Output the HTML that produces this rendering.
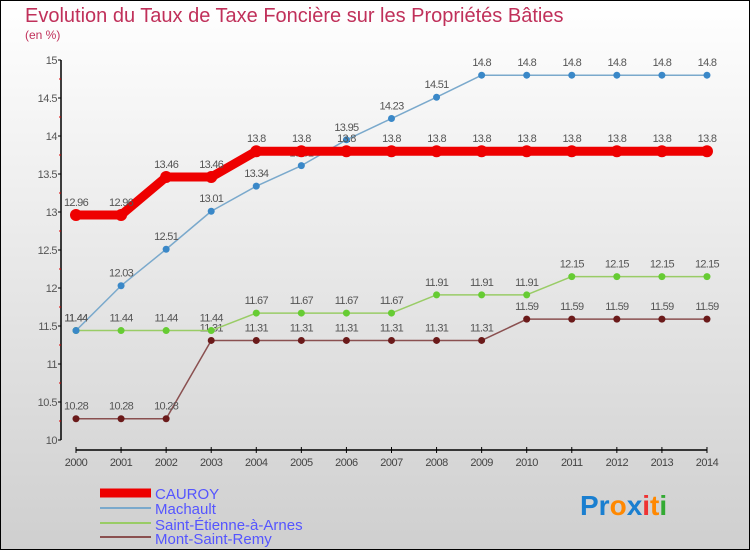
<!DOCTYPE html>
<html><head><meta charset="utf-8"><style>
body{margin:0}
#wrap{width:750px;height:550px;position:relative;box-sizing:border-box;border:1px solid #000;background:linear-gradient(#fff,#cfcfcf);font-family:"Liberation Sans",sans-serif;overflow:hidden}
</style></head><body>
<div id="wrap">
<svg id="svg" width="750" height="550" style="position:absolute;left:-1px;top:-1px">
<text x="25" y="22" font-size="20" fill="#c0305a">Evolution du Taux de Taxe Foncière sur les Propriétés Bâties</text>
<text x="25" y="39" font-size="12" fill="#c0305a">(en %)</text>
<g id="axes"></g><g id="series"></g>
<g>
<line x1="100" y1="493" x2="151" y2="493" stroke="#e00" stroke-width="9"/>
<text x="155" y="499" font-size="15" fill="#55f">CAUROY</text>
<line x1="100" y1="508" x2="151" y2="508" stroke="#7aa9cc" stroke-width="2"/>
<text x="155" y="514" font-size="15" fill="#55f">Machault</text>
<line x1="100" y1="523" x2="151" y2="523" stroke="#9c6" stroke-width="2"/>
<text x="155" y="530" font-size="15" fill="#55f">Saint-Étienne-à-Arnes</text>
<line x1="100" y1="537" x2="151" y2="537" stroke="#8a5050" stroke-width="2"/>
<text x="155" y="544" font-size="15" fill="#55f">Mont-Saint-Remy</text>
</g>
<text x="580" y="515" font-size="28" font-weight="bold"><tspan fill="#1a7fd0">Pr</tspan><tspan fill="#f80">o</tspan><tspan fill="#1a7fd0">x</tspan><tspan fill="#e33">i</tspan><tspan fill="#f80">t</tspan><tspan fill="#3a3">i</tspan></text>
</svg>
</div>
<script>
const years=[2000,2001,2002,2003,2004,2005,2006,2007,2008,2009,2010,2011,2012,2013,2014];
const cauroy=[12.96,12.96,13.46,13.46,13.8,13.8,13.8,13.8,13.8,13.8,13.8,13.8,13.8,13.8,13.8];
const machault=[11.44,12.03,12.51,13.01,13.34,13.61,13.95,14.23,14.51,14.8,14.8,14.8,14.8,14.8,14.8];
const stEtienne=[11.44,11.44,11.44,11.44,11.67,11.67,11.67,11.67,11.91,11.91,11.91,12.15,12.15,12.15,12.15];
const montSaintRemy=[10.28,10.28,10.28,11.31,11.31,11.31,11.31,11.31,11.31,11.31,11.59,11.59,11.59,11.59,11.59];
const yTicks=[10,10.5,11,11.5,12,12.5,13,13.5,14,14.5,15];
const NS="http://www.w3.org/2000/svg";
const xs=i=>76+i*45.07;
const ys=v=>440-(v-10)*76;
function mk(t,a,p){const e=document.createElementNS(NS,t);for(const k in a)e.setAttribute(k,a[k]);p.appendChild(e);return e;}
const ax=document.getElementById('axes'),sg=document.getElementById('series');
const yl=mk('line',{x1:61,y1:ys(15),x2:61,y2:ys(10),stroke:'#000','stroke-width':1.5},ax);


yTicks.forEach(v=>{mk('line',{x1:58,x2:61,y1:ys(v),y2:ys(v),stroke:'#000'},ax);
 if(v<15)mk('line',{x1:59,x2:61,y1:ys(v+0.25),y2:ys(v+0.25),stroke:'#d00'},ax);
 const t=mk('text',{x:57,y:ys(v)+4,'font-size':11,fill:'#555','text-anchor':'end','letter-spacing':'-0.5'},ax);t.textContent=v;
 
 });
const xl=mk('line',{x1:xs(0),y1:450,x2:xs(14),y2:450,stroke:'#000','stroke-width':1.5},ax);


years.forEach((y,i)=>{mk('line',{x1:xs(i),x2:xs(i),y1:447,y2:453,stroke:'#000'},ax);
 const t=mk('text',{x:xs(i),y:466,'font-size':11,fill:'#444','text-anchor':'middle','letter-spacing':'-0.5'},ax);t.textContent=y;
 
 });
function series(vals,col,dot,w,r,name){
 const g=mk('g',{},sg);
 
 
 mk('polyline',{points:vals.map((v,i)=>xs(i)+','+ys(v)).join(' '),fill:'none',stroke:col,'stroke-width':w,'stroke-linejoin':'round'},g);
 vals.forEach((v,i)=>{const c=mk('circle',{cx:xs(i),cy:ys(v),r:r,fill:dot},g);
  
  
  const t=mk('text',{x:xs(i),y:ys(v)-9,'font-size':11,fill:'#555','text-anchor':'middle','letter-spacing':'-0.7'},g);t.textContent=v;
  
  });
}
series(montSaintRemy,'#8a5050','#6b1a1a',1.5,3.5,'mont-saint-remy-series');
series(stEtienne,'#9c6','#6c3',1.5,3.5,'saint-etienne-series');
series(machault,'#7aa9cc','#3a88c8',1.5,3.5,'machault-series');
series(cauroy,'#e00','#e00',9,6,'cauroy-series');
</script>
</body></html>
